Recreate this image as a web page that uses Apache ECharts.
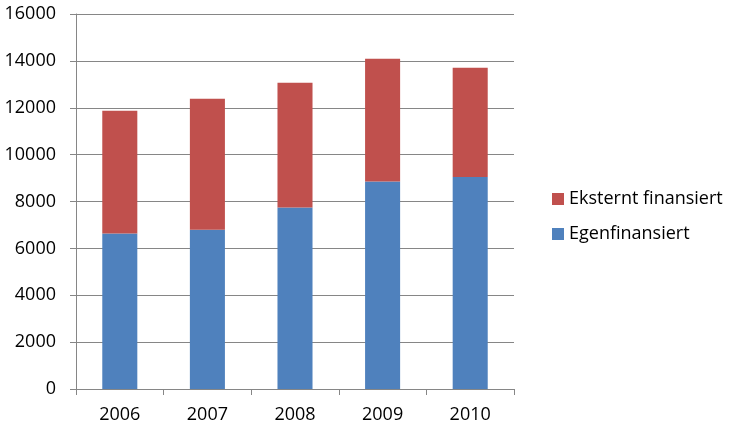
<!DOCTYPE html>
<html>
<head>
<meta charset="utf-8">
<script src="https://cdn.jsdelivr.net/npm/echarts@6/dist/echarts.min.js"></script>
<style>html,body{margin:0;padding:0;background:#fff}#c{width:731px;height:431px}</style>
</head>
<body>
<div id="c"></div>
<script>
const categories = ['2006', '2007', '2008', '2009', '2010'];
const egenfinansiert = [6630, 6790, 7740, 8850, 9050];
const eksterntFinansiert = [5240, 5590, 5330, 5240, 4660];
const yTicks = { min: 0, max: 16000, interval: 2000 };

const FONT = 'Open Sans';
const chart = echarts.init(document.getElementById('c'), null, { renderer: 'canvas' });
chart.setOption({
  animation: false,
  backgroundColor: '#ffffff',
  grid: { left: 76, right: 217, top: 14, bottom: 42, containLabel: false },
  legend: {
    orient: 'vertical',
    left: 547,
    top: 184,
    itemWidth: 12,
    itemHeight: 12,
    itemGap: 15,
    icon: 'rect',
    data: ['Eksternt finansiert', 'Egenfinansiert'],
    textStyle: { fontFamily: FONT, fontSize: 18, color: '#000', lineHeight: 20 }
  },
  xAxis: {
    type: 'category',
    data: categories,
    axisLine: { lineStyle: { color: '#868686', width: 1 } },
    axisTick: { show: true, length: 6, lineStyle: { color: '#868686' } },
    axisLabel: { fontFamily: FONT, fontSize: 18, color: '#000', margin: 17 }
  },
  yAxis: {
    type: 'value',
    min: yTicks.min,
    max: yTicks.max,
    interval: yTicks.interval,
    axisLine: { show: true, lineStyle: { color: '#868686', width: 1 } },
    axisTick: { show: true, length: 6, lineStyle: { color: '#868686' } },
    splitLine: { show: true, lineStyle: { color: '#868686', width: 1 } },
    axisLabel: { fontFamily: FONT, fontSize: 18, color: '#000', margin: 20, formatter: v => String(v) }
  },
  series: [
    {
      name: 'Egenfinansiert',
      type: 'bar',
      stack: 'total',
      data: egenfinansiert,
      barWidth: '40%',
      itemStyle: { color: '#4F81BD' }
    },
    {
      name: 'Eksternt finansiert',
      type: 'bar',
      stack: 'total',
      data: eksterntFinansiert,
      barWidth: '40%',
      itemStyle: { color: '#C0504D' }
    }
  ]
});
</script>
</body>
</html>
